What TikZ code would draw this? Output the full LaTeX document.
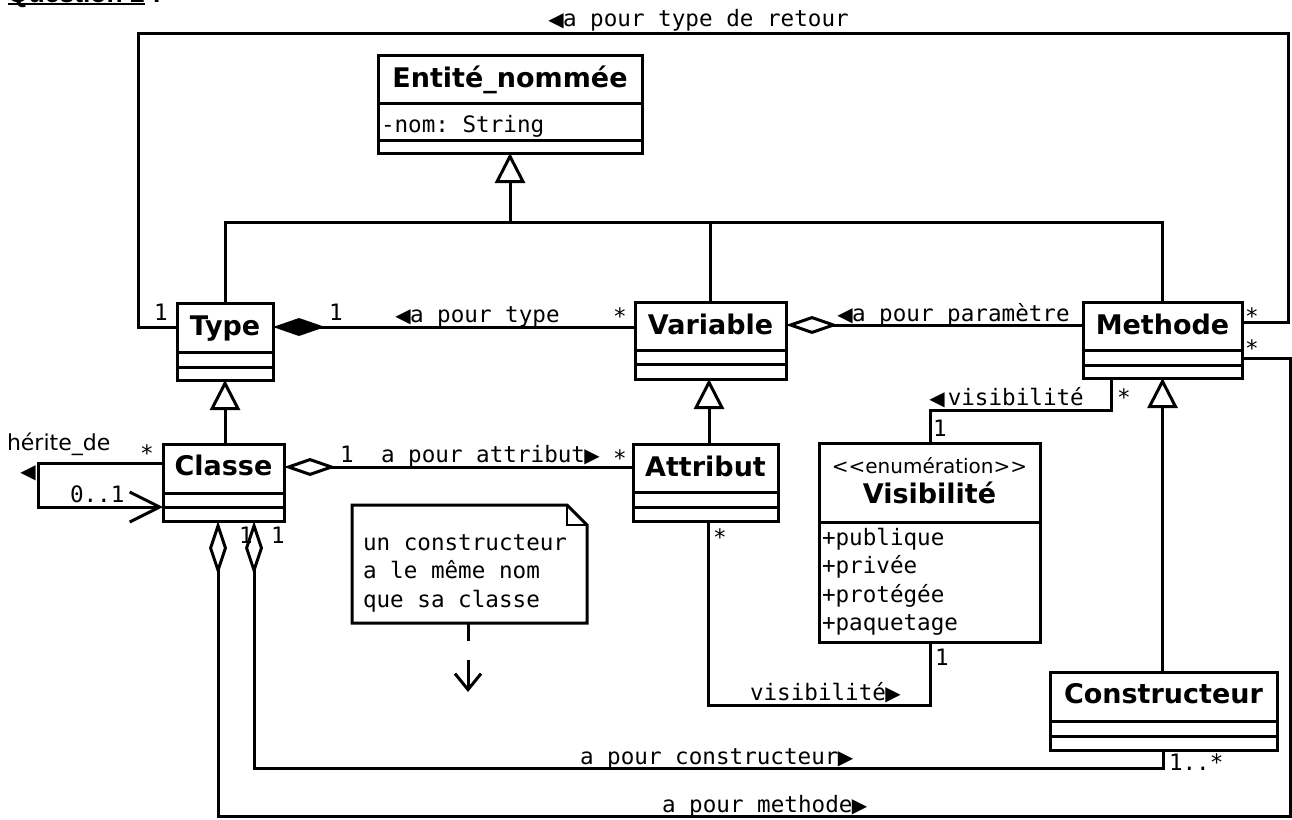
\documentclass[tikz,border=0pt]{standalone}
\usepackage{fontspec}
\setmainfont{DejaVu Sans}
\setmonofont{DejaVu Sans Mono}
\newfontfamily\headfont{Liberation Sans}
\newfontfamily\markfont{DejaVu Sans}
\usetikzlibrary{arrows.meta}

\tikzset{
  every node/.style={inner sep=0pt, outer sep=0pt},
  boxline/.style={line width=3pt},
  umlbox/.style={draw, line width=3pt, anchor=north west, fill=white},
  clstitle/.style={anchor=base, font=\fontsize{27}{27}\selectfont\bfseries},
  stereo/.style={anchor=base, font=\fontsize{20}{20}\selectfont},
  mono/.style={font=\ttfamily\fontsize{22.6}{28.5}\selectfont},
  lbl/.style={mono, anchor=base west},
  mult/.style={mono, anchor=base},
  link/.style={line width=3pt},
  inh/.style={link, -{Triangle[fill=white, length=30pt, width=30pt]}},
  comp/.style={link, {Diamond[length=52pt, width=18pt]}-},
  aggs/.style={link, {Diamond[fill=white, length=52pt, width=18pt]}-},
  agge/.style={link, -{Diamond[fill=white, length=54pt, width=18pt]}},
  openarrow/.style={link, -{Straight Barb[length=30pt, width=30pt]}},
  notearrow/.style={link, dash pattern=on 18pt off 19pt on 40pt,
                    -{Straight Barb[length=16pt, width=26pt]}},
}
\newcommand\sepline[2]{\draw[boxline] ([yshift=-#2pt]#1.north west) -- ([yshift=-#2pt]#1.north east);}
% direction markers of the association names, one character cell wide
\newcommand\dirl{\makebox[14pt]{\markfont\fontsize{20}{20}\selectfont ◀}}
\newcommand\dirr{\makebox[14pt]{\markfont\fontsize{20}{20}\selectfont ▶}}

\begin{document}
\begin{tikzpicture}[x=1pt, y=-1pt]
\useasboundingbox (0,0) rectangle (1292,819);

% heading
\node[anchor=base west, font=\headfont\bfseries\fontsize{26.5}{26.5}\selectfont] (q) at (8,2.3) {Question 2};
\node[anchor=base west, font=\headfont\bfseries\fontsize{26.5}{26.5}\selectfont] (qc) at (q.base east) {\ :};
\draw[line width=2pt] ([yshift=-1.7pt]q.base west) -- ([yshift=-1.7pt]q.base east);

% ---------- classes ----------
\node[umlbox, minimum width=264, minimum height=98] (entite) at (378,55) {};
\node[clstitle] (entite-t) at (510,87) {Entité\_nommée};
\sepline{entite}{48}\sepline{entite}{85}
\node[lbl] (entite-a) at (381,132) {-nom: String};

\node[umlbox, minimum width=96, minimum height=77] (type) at (177,303) {};
\node[clstitle] (type-t) at (225,335) {Type};
\sepline{type}{49}\sepline{type}{64}

\node[umlbox, minimum width=121, minimum height=77] (classe) at (163,444) {};
\node[clstitle] (classe-t) at (223.5,475) {Classe};
\sepline{classe}{49}\sepline{classe}{63}

\node[umlbox, minimum width=151, minimum height=77] (variable) at (635,302) {};
\node[clstitle] (variable-t) at (710.5,334.5) {Variable};
\sepline{variable}{48}\sepline{variable}{62}

\node[umlbox, minimum width=159, minimum height=76] (methode) at (1083,302) {};
\node[clstitle] (methode-t) at (1162.5,334) {Methode};
\sepline{methode}{48}\sepline{methode}{63}

\node[umlbox, minimum width=145, minimum height=77] (attribut) at (633,444) {};
\node[clstitle] (attribut-t) at (705.5,476) {Attribut};
\sepline{attribut}{48}\sepline{attribut}{63}

\node[umlbox, minimum width=227, minimum height=78] (constructeur) at (1050,672) {};
\node[clstitle] (constructeur-t) at (1163.5,703) {Constructeur};
\sepline{constructeur}{49}\sepline{constructeur}{64}

\node[umlbox, minimum width=221, minimum height=199] (visib) at (819,443) {};
\node[stereo] (visib-s) at (929.5,473) {<{}<enumération>{}>};
\node[clstitle] (visib-t) at (929.5,503) {Visibilité};
\sepline{visib}{79}
\node[lbl] (visib-a1) at (822,545) {+publique};
\node[lbl] (visib-a2) at (822,573) {+privée};
\node[lbl] (visib-a3) at (822,602) {+protégée};
\node[lbl] (visib-a4) at (822,630) {+paquetage};

% ---------- note ----------
\node[minimum width=235, minimum height=118, anchor=north west] (note) at (352,505) {};
\draw[boxline, line join=miter] (note.north west) -- ([xshift=-20pt]note.north east)
  -- ([yshift=-20pt]note.north east) -- (note.south east) -- (note.south west) -- cycle;
\draw[line width=1.5pt] ([xshift=-20pt]note.north east) |- ([yshift=-20pt]note.north east);
\node[lbl] (note-1) at (363,550) {un constructeur};
\node[lbl] (note-2) at (363,578) {a le même nom};
\node[lbl] (note-3) at (363,607) {que sa classe};
\coordinate (note-tgt) at (468,692);
\draw[notearrow] (note.south -| note-tgt) -- (note-tgt);

% ---------- generalizations ----------
\draw[link] (type.north) |- (methode.north |- 0,222) -- (methode.north);
\draw[link] (variable.north) -- (variable.north |- 0,222);
\draw[inh] (entite.south |- 0,222) -- (entite.south);
\draw[inh] (classe.north -| type.south) -- (type.south);
\draw[inh] (attribut.north -| 709,0) -- (variable.south -| 709,0);
\draw[inh] (constructeur.north -| methode.south) -- (methode.south);

% ---------- associations ----------
\draw[comp] (type.east |- 0,327) -- (variable.west |- 0,327);
\draw[aggs] (variable.east |- 0,325) -- (methode.west |- 0,325);
\draw[aggs] (classe.east |- 0,467) -- (attribut.west |- 0,467);
\draw[agge] (methode.east |- 0,358) -- (1290,358) -- (1290,816) -- (218,816) -- (classe.south -| 218,0);
\draw[agge] (constructeur.south -| 1163,0) -- (1163,768) -- (254,768) -- (classe.south -| 254,0);
\draw[link] (type.west |- 0,327) -- (138,327) -- (138,33) -- (1288,33) -- (1288,322) -- (methode.east |- 0,322);
\draw[openarrow] (classe.west |- 0,463) -- (38,463) -- (38,507) -- (classe.west |- 0,507);
\draw[link] (methode.south -| 1111,0) -- (1111,410) -- (930,410) -- (visib.north -| 930,0);
\draw[link] (visib.south -| 930,0) -- (930,705) -- (708,705) -- (attribut.south -| 708,0);

% ---------- labels and multiplicities ----------
\node[lbl] (l-ret) at (549,27) {\dirl a pour type de retour};
\node[mult] (m-type-l) at (161,320) {1};
\node[mult] (m-type-r) at (336,320) {1};
\node[lbl] (l-type) at (396,322) {\dirl a pour type};
\node[mult] (m-var-l) at (620,324) {*};
\node[lbl] (l-param) at (838,321) {\dirl a pour paramètre};
\node[mult] (m-meth-r) at (1252,324) {*};
\node[mult] (m-meth-m) at (1252,356) {*};
\node[mult] (m-meth-v) at (1124,405) {*};
\node[lbl] (l-vis1) at (930,405) {\dirl\,visibilité};
\node[mult] (m-vis-t) at (940,436) {1};
\node[mult] (m-vis-b) at (942,665) {1};
\node[lbl] (l-vis2) at (750,700) {visibilité\dirr};
\node[mult] (m-attr-b) at (720,545) {*};
\node[mult] (m-cls-a) at (347,462) {1};
\node[lbl] (l-attr) at (381,462) {a pour attribut\dirr};
\node[mult] (m-attr-l) at (620,466) {*};
\node[lbl] (l-cons) at (580,764) {a pour constructeur\dirr};
\node[lbl] (m-cons) at (1169,770) {1..*};
\node[lbl] (l-meth) at (662,812) {a pour methode\dirr};
\node[anchor=base west, font=\fontsize{22}{22}\selectfont] (l-herite) at (7,450) {hérite\_de};
\node[mult] (m-herite) at (147,461) {*};
\node[anchor=center] (d-herite) at (28,473) {\dirl};
\node[lbl] (m-01) at (70,502) {0..1};
\node[mult] (m-cls-m) at (246,543) {1};
\node[mult] (m-cls-c) at (278,543) {1};
\end{tikzpicture}
\end{document}
